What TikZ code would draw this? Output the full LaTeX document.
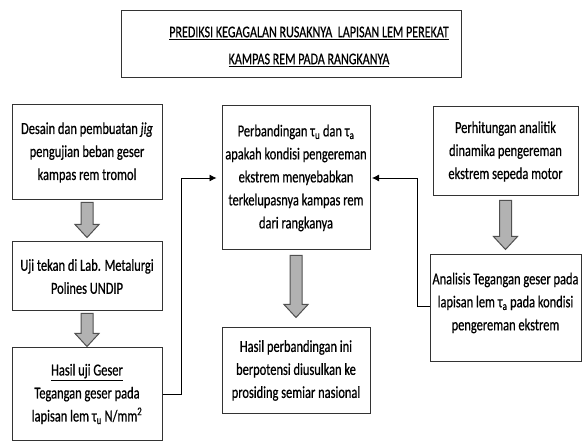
\documentclass[tikz,border=0pt]{standalone}
\usepackage{fontspec}
\setmainfont{Carlito}[FakeStretch=0.74,FakeBold=0.6]
\usetikzlibrary{calc,arrows.meta}
\definecolor{boxline}{HTML}{333333}
\definecolor{arrfill}{HTML}{B2B2B2}
\definecolor{arrline}{HTML}{505050}
\newcommand\tausub[1]{τ\textsubscript{#1}}
\tikzset{
  box/.style={draw=boxline, line width=1pt, rectangle, align=center, inner sep=0pt,
    font=\fontsize{16.8}{23}\selectfont},
  conn/.style={draw=black, line width=0.8pt, -{Latex[length=7pt,width=7pt]}},
  blockarrow/.style={draw=arrline, fill=arrfill, line width=1pt, line join=miter},
}
\newcommand\blkarrow[4]{%
  \draw[blockarrow] let \p1=(#1.south), \p2=(#2.north) in
    (\x1-6pt,\y1-#3) -- (\x1+6pt,\y1-#3) -- (\x1+6pt,\y2+#4+13pt) -- (\x1+12pt,\y2+#4+13pt)
    -- (\x1,\y2+#4) -- (\x1-12pt,\y2+#4+13pt) -- (\x1-6pt,\y2+#4+13pt) -- cycle;}
\begin{document}
\begin{tikzpicture}[x=1pt,y=-1pt]
\useasboundingbox[fill=white] (0,0) rectangle (582,441);
% title
\node[box, minimum width=340pt, minimum height=67pt] (title) at (291,44.5) {};
\node[align=center, inner sep=0pt, font=\fontsize{16.3}{27}\selectfont] (titletext) at (309,46.5)
  {\underline{PREDIKSI KEGAGALAN RUSAKNYA\ \ LAPISAN LEM PEREKAT}\\\underline{KAMPAS REM PADA RANGKANYA}};
% left column
\node[box, minimum width=150pt, minimum height=95pt] (b1) at (87,152.5)
  {Desain dan pembuatan \emph{jig}\\pengujian beban geser\\kampas rem tromol};
\node[box, minimum width=150pt, minimum height=69pt] (b2) at (87,276.5)
  {Uji tekan di Lab. Metalurgi\\Polines UNDIP};
\node[box, minimum width=150pt, minimum height=92pt] (b3) at (87,394)
  {\underline{Hasil uji Geser}\\Tegangan geser pada\\lapisan lem \tausub{u} N/mm\textsuperscript{2}};
% center column
\node[box, minimum width=148pt, minimum height=144pt] (c1) at (296,178)
  {Perbandingan \tausub{u} dan \tausub{a}\\apakah kondisi pengereman\\ekstrem menyebabkan\\terkelupasnya kampas rem\\dari rangkanya};
\node[box, minimum width=148pt, minimum height=85pt] (c2) at (296,370.5)
  {Hasil perbandingan ini\\berpotensi diusulkan ke\\prosiding semiar nasional};
% right column
\node[box, minimum width=145pt, minimum height=89pt] (r1) at (505.5,151.5)
  {Perhitungan analitik\\dinamika pengereman\\ekstrem sepeda motor};
\node[box, minimum width=151pt, minimum height=107pt, text depth=14pt] (r2) at (505.5,308.5)
  {Analisis Tegangan geser pada\\lapisan lem \tausub{a} pada kondisi\\pengereman ekstrem};
% block arrows
\blkarrow{b1}{b2}{2pt}{4pt}
\blkarrow{b2}{b3}{2pt}{1pt}
\blkarrow{c1}{c2}{5pt}{10pt}
\blkarrow{r1}{r2}{4pt}{5pt}
% connectors
\draw[conn, shorten >=5pt] (b3.east) -- ++(19,0) |- (c1.west);
\draw[conn, shorten >=1.5pt] ([yshift=2pt]r2.west) -- ++(-12,0) |- (c1.east);
\end{tikzpicture}
\end{document}
